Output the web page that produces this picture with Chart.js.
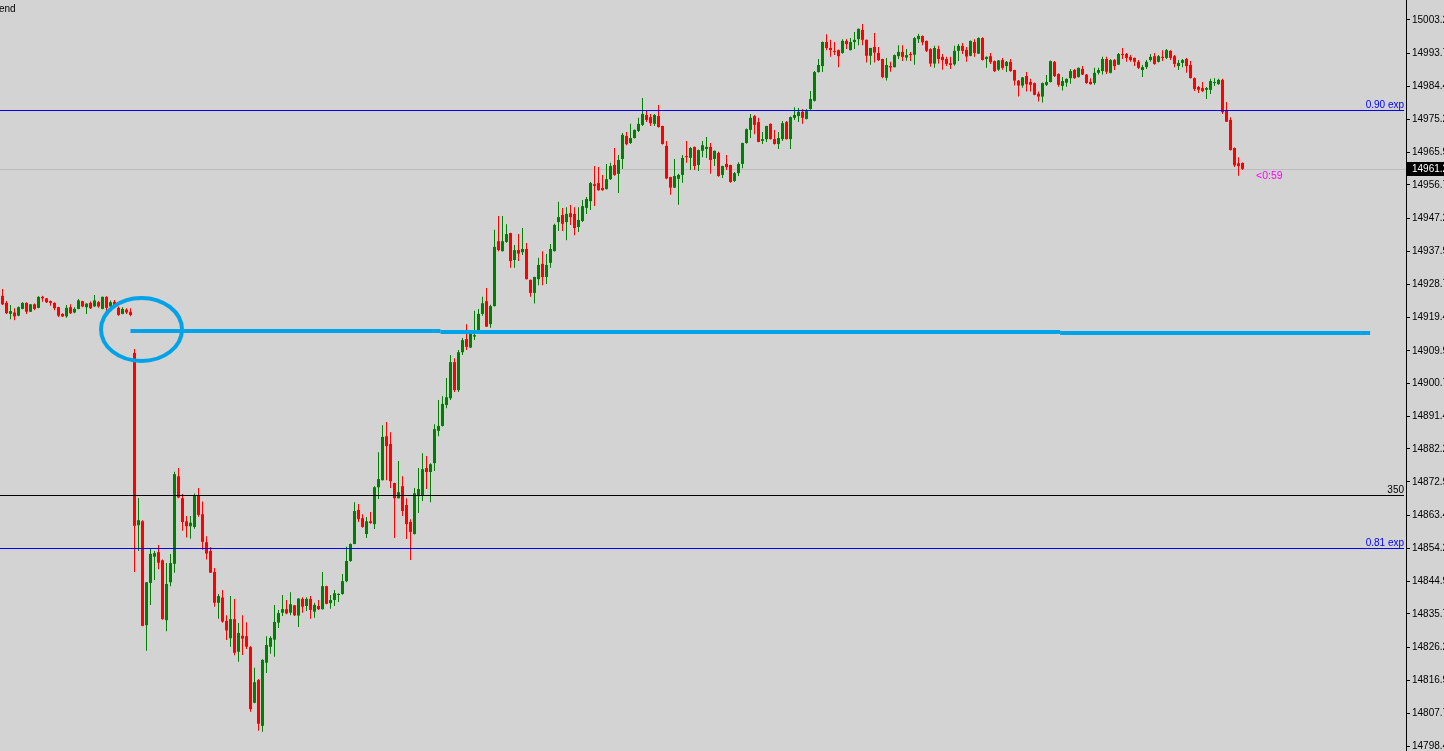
<!DOCTYPE html>
<html><head><meta charset="utf-8">
<script src="https://cdn.jsdelivr.net/npm/chart.js@4.4.1/dist/chart.umd.min.js"></script>
<style>html,body{margin:0;padding:0;background:#d3d3d3;overflow:hidden}canvas{display:block}</style>
</head><body>
<canvas id="c" width="1444" height="751" style="width:1444px;height:751px"></canvas>
<script>
const opens = [
14925.4,14923.4,14920.3,14920.7,14919.8,14921.7,14923.4,14920.9,14923.0,14922.0,
14925.1,14924.7,14923.9,14923.4,14922.2,14920.3,14919.6,14922.2,14920.7,14921.7,
14923.9,14922.2,14923.4,14922.4,14923.6,14921.7,14925.1,14922.4,14923.7,14922.0,
14920.3,14921.5,14920.9,14909.3,14860.7,14861.8,14832.5,14844.4,14851.8,14853.1,
14850.8,14833.9,14844.6,14849.8,14874.5,14868.3,14861.8,14860.4,14860.2,14869.1,
14863.8,14855.9,14853.4,14847.5,14838.8,14840.3,14833.7,14828.8,14834.2,14825.0,
14829.5,14829.4,14826.3,14810.6,14817.0,14804.1,14821.9,14826.4,14828.4,14833.2,
14836.0,14837.0,14836.0,14838.1,14835.2,14839.9,14837.9,14839.9,14836.3,14837.9,
14837.0,14843.5,14838.7,14839.6,14841.0,14841.3,14844.9,14850.6,14855.4,14865.0,
14862.7,14858.2,14861.8,14861.0,14871.4,14873.4,14885.8,14883.6,14872.6,14868.3,
14871.7,14866.4,14861.6,14858.2,14868.9,14869.2,14876.8,14875.7,14878.2,14887.3,
14888.7,14894.6,14896.5,14906.7,14898.8,14909.5,14913.2,14910.8,14913.9,14915.7,
14920.3,14923.9,14917.4,14922.5,14940.8,14938.0,14940.6,14943.1,14935.5,14938.3,
14937.7,14938.6,14929.9,14926.2,14930.1,14934.4,14930.7,14934.7,14938.0,14946.2,
14948.2,14946.2,14948.7,14948.5,14944.8,14946.5,14950.2,14952.1,14956.9,14957.2,
14955.8,14955.5,14958.3,14962.3,14959.8,14964.0,14970.5,14968.5,14969.9,14971.9,
14973.6,14976.4,14975.8,14973.9,14976.1,14973.3,14967.7,14958.9,14955.9,14958.4,
14959.5,14964.8,14964.3,14967.4,14962.3,14966.3,14966.8,14967.4,14964.0,14965.7,
14959.5,14962.6,14962.3,14957.8,14960.0,14962.6,14968.5,14972.2,14976.1,14974.4,
14969.1,14969.6,14973.9,14969.6,14968.2,14969.6,14974.4,14969.6,14975.6,14976.1,
14977.3,14975.3,14978.1,14980.4,14988.5,14990.2,14997.0,14995.3,14994.5,14994.7,
14993.9,14997.3,14994.7,14997.0,14997.8,15000.4,14997.6,14993.1,14995.6,14993.9,
14992.2,14986.9,14990.2,14989.9,14993.0,14994.2,14992.6,14993.6,14993.4,14997.8,
14998.7,14997.3,14995.0,14990.9,14995.0,14992.8,14992.2,14991.0,14990.7,14994.5,
14995.9,14994.8,14993.1,14997.0,14993.7,14998.1,14992.2,14993.0,14991.6,14989.2,
14991.9,14990.2,14991.4,14989.1,14986.1,14984.7,14987.4,14985.7,14985.4,14982.4,
14981.6,14984.9,14985.7,14991.4,14988.0,14984.6,14985.5,14986.8,14989.1,14987.1,
14989.4,14987.8,14985.8,14985.4,14988.3,14988.8,14992.2,14988.3,14991.9,14990.6,
14993.6,14993.6,14992.8,14992.5,14991.4,14989.1,14989.9,14991.9,14993.0,14991.4,
14992.8,14992.5,14994.5,14993.0,14990.2,14991.1,14992.2,14990.5,14986.8,14984.3,
14984.0,14983.5,14983.5,14985.4,14985.1,14986.3,14977.8,14975.0,14967.1,14962.8,
14962.9];
const highs = [
14927.3,14923.9,14922.8,14921.9,14922.4,14923.6,14923.6,14923.0,14923.2,14925.3,
14925.4,14924.8,14924.1,14923.6,14922.3,14920.5,14922.8,14923.0,14922.2,14924.5,
14924.0,14923.3,14923.8,14925.6,14923.9,14925.2,14925.3,14924.1,14924.2,14922.4,
14922.2,14921.9,14921.9,14910.4,14868.4,14862.1,14844.7,14854.0,14853.4,14855.1,
14851.0,14850.0,14852.6,14875.8,14876.8,14869.5,14863.3,14863.3,14869.6,14871.2,
14867.4,14857.6,14854.5,14848.6,14841.3,14842.4,14835.3,14840.7,14839.9,14833.1,
14835.3,14833.3,14826.6,14820.5,14817.3,14822.9,14829.4,14829.4,14838.2,14836.8,
14841.0,14839.6,14841.8,14838.2,14840.1,14840.4,14840.4,14840.7,14838.8,14839.6,
14847.5,14843.6,14841.0,14842.4,14841.5,14846.9,14854.6,14855.5,14867.2,14866.7,
14863.8,14863.0,14864.4,14871.7,14881.3,14888.9,14889.8,14886.9,14872.7,14878.8,
14874.5,14868.3,14862.4,14871.2,14876.8,14881.0,14880.2,14878.2,14889.2,14896.0,
14897.1,14902.2,14908.7,14907.8,14910.1,14913.5,14917.4,14915.2,14921.2,14921.7,
14925.1,14927.6,14922.9,14944.0,14947.9,14947.9,14945.6,14943.2,14939.7,14942.8,
14944.5,14940.3,14930.0,14930.8,14936.1,14938.0,14937.2,14940.0,14945.7,14951.9,
14950.2,14950.4,14951.0,14950.4,14950.4,14952.4,14953.3,14957.5,14962.0,14961.7,
14959.5,14962.6,14962.9,14967.1,14965.1,14971.3,14971.6,14973.9,14972.3,14975.6,
14981.2,14977.5,14976.7,14976.7,14979.2,14973.4,14969.1,14959.0,14964.0,14959.8,
14965.1,14969.1,14967.4,14967.5,14966.7,14969.1,14970.2,14968.5,14966.4,14966.0,
14962.1,14965.1,14962.4,14960.3,14963.1,14968.6,14972.6,14976.7,14976.4,14975.6,
14971.6,14973.4,14974.0,14972.2,14971.6,14974.7,14974.7,14976.0,14978.6,14978.4,
14978.1,14978.1,14983.2,14988.8,14992.2,14997.1,14999.2,14997.6,14997.0,14994.9,
14997.8,14997.8,14998.1,14999.8,15000.8,15002.1,14997.7,14995.4,14999.5,14995.6,
14992.3,14992.5,14991.4,14993.5,14996.1,14996.1,14995.0,14994.2,14998.4,14999.3,
14998.8,14997.4,14995.2,14995.9,14995.9,14993.6,14992.8,14992.8,14995.9,14996.4,
14996.7,14995.6,14997.4,14997.8,14998.3,14998.3,14992.9,14993.9,14991.8,14991.9,
14992.5,14991.6,14992.2,14989.2,14986.3,14987.1,14988.5,14986.6,14985.6,14983.0,
14985.6,14987.7,14991.8,14991.6,14988.1,14987.1,14986.7,14989.4,14989.4,14989.8,
14990.2,14988.0,14986.8,14989.7,14989.7,14992.8,14992.8,14992.2,14992.2,14993.9,
14995.3,14993.9,14993.3,14992.6,14991.9,14990.5,14991.9,14993.6,14993.9,14993.3,
14994.7,14995.0,14994.7,14993.3,14991.9,14992.2,14992.5,14991.6,14987.0,14984.6,
14985.7,14984.3,14986.6,14986.8,14986.6,14986.6,14980.1,14975.8,14967.2,14964.5,
14963.0];
const lows = [
14922.8,14920.3,14918.8,14918.5,14919.6,14921.6,14920.3,14920.8,14921.3,14921.9,
14923.7,14923.4,14922.6,14921.3,14919.4,14919.4,14919.2,14920.3,14920.5,14921.6,
14922.2,14920.3,14921.7,14922.3,14922.0,14921.6,14921.1,14922.0,14922.2,14919.8,
14920.2,14920.3,14919.6,14847.5,14853.4,14832.2,14825.3,14838.2,14845.2,14848.3,
14834.0,14830.8,14843.5,14847.3,14868.3,14859.1,14857.2,14856.9,14859.7,14863.1,
14853.8,14851.0,14847.2,14837.7,14834.3,14833.2,14828.3,14826.4,14824.0,14822.2,
14824.1,14825.8,14808.1,14810.5,14802.7,14802.4,14819.0,14824.4,14823.6,14831.7,
14835.1,14835.6,14835.3,14835.1,14832.0,14836.0,14836.5,14834.3,14834.6,14836.8,
14836.9,14838.4,14837.1,14837.9,14839.0,14841.1,14844.6,14850.4,14855.3,14861.6,
14860.0,14857.1,14861.1,14859.6,14868.1,14873.3,14873.4,14871.2,14857.1,14868.2,
14863.3,14856.8,14850.9,14858.1,14864.1,14867.5,14870.9,14867.2,14876.0,14885.8,
14888.5,14893.7,14896.0,14898.3,14898.3,14908.7,14910.1,14910.7,14912.9,14915.5,
14919.8,14916.6,14916.4,14922.4,14938.0,14937.9,14940.4,14933.3,14933.3,14935.2,
14936.9,14930.0,14925.1,14923.2,14928.4,14928.4,14928.7,14933.3,14937.9,14943.7,
14943.7,14941.1,14945.4,14942.5,14943.4,14946.2,14948.5,14949.6,14950.7,14955.0,
14955.0,14955.4,14958.1,14959.3,14954.4,14961.2,14967.9,14968.2,14969.8,14971.6,
14973.3,14974.4,14973.3,14973.3,14972.9,14968.1,14958.3,14953.9,14955.8,14951.1,
14957.3,14962.9,14960.9,14960.9,14960.6,14964.5,14964.3,14959.8,14962.0,14959.0,
14958.6,14960.9,14957.3,14957.5,14959.2,14961.4,14968.3,14969.9,14971.0,14968.7,
14968.2,14968.8,14969.5,14968.1,14966.8,14969.1,14969.5,14966.8,14975.0,14974.4,
14973.9,14975.1,14977.9,14980.2,14988.4,14988.5,14994.7,14992.8,14993.3,14989.9,
14993.7,14995.0,14994.6,14995.0,14996.1,14996.1,14991.2,14990.6,14991.2,14991.6,
14986.8,14986.1,14988.6,14989.8,14992.2,14991.6,14991.7,14991.6,14990.6,14996.7,
14996.1,14994.2,14990.0,14989.7,14990.9,14989.2,14990.2,14989.4,14990.3,14991.6,
14993.6,14991.4,14993.0,14992.8,14993.6,14991.8,14989.7,14990.8,14988.5,14988.8,
14989.2,14988.5,14988.6,14984.7,14981.6,14984.1,14983.0,14983.0,14982.0,14980.2,
14979.9,14984.6,14985.6,14987.1,14984.4,14983.3,14984.4,14985.2,14986.6,14987.0,
14987.7,14985.2,14984.9,14984.9,14987.8,14987.8,14988.0,14988.1,14989.1,14990.5,
14992.2,14991.4,14991.4,14990.2,14989.4,14987.1,14989.4,14991.4,14990.6,14991.2,
14991.6,14992.2,14991.9,14989.9,14989.1,14989.9,14988.3,14986.7,14983.2,14982.6,
14982.9,14980.9,14982.3,14984.6,14984.9,14976.7,14974.4,14966.4,14961.7,14959.3,
14960.9];
const closes = [
14923.0,14920.5,14921.1,14919.6,14922.2,14923.4,14920.9,14923.0,14921.7,14925.1,
14924.7,14923.6,14923.4,14921.9,14919.8,14919.6,14922.0,14920.5,14921.7,14924.1,
14922.4,14923.2,14921.9,14924.1,14922.4,14925.1,14922.0,14923.6,14922.8,14920.0,
14921.7,14920.7,14920.0,14860.5,14862.1,14832.3,14844.6,14852.6,14852.8,14850.1,
14834.2,14844.1,14850.0,14875.1,14868.5,14861.6,14860.4,14861.4,14869.1,14863.6,
14856.0,14852.7,14847.3,14838.8,14840.7,14833.5,14831.0,14834.2,14824.7,14830.3,
14828.7,14826.4,14808.8,14816.4,14804.7,14822.7,14826.9,14828.9,14833.4,14835.9,
14837.0,14835.8,14838.4,14835.3,14840.0,14837.7,14839.9,14836.8,14838.2,14837.0,
14843.5,14838.5,14839.6,14841.5,14841.3,14844.9,14850.6,14855.4,14864.7,14862.4,
14860.2,14861.8,14861.3,14871.4,14873.7,14885.6,14883.0,14873.1,14868.3,14870.0,
14864.7,14861.0,14858.8,14869.7,14870.9,14876.5,14875.7,14877.9,14887.8,14888.7,
14894.9,14896.8,14906.7,14898.8,14909.5,14912.9,14911.0,14915.0,14914.3,14920.3,
14923.3,14916.7,14922.5,14939.2,14938.3,14940.8,14942.8,14935.2,14938.3,14937.3,
14938.6,14930.1,14926.2,14930.7,14934.1,14930.7,14934.1,14938.6,14945.4,14947.6,
14945.7,14948.5,14947.6,14944.5,14946.8,14950.7,14952.7,14957.2,14956.4,14955.2,
14955.2,14958.3,14962.0,14959.5,14963.7,14970.8,14968.2,14969.9,14972.2,14973.9,
14976.7,14975.0,14974.1,14976.4,14973.0,14968.2,14958.5,14955.9,14959.2,14959.5,
14964.3,14964.5,14967.1,14962.0,14966.5,14967.9,14967.4,14963.7,14966.3,14959.2,
14962.0,14961.7,14957.5,14960.0,14962.6,14968.5,14972.4,14975.6,14973.6,14968.8,
14969.6,14973.3,14969.6,14968.2,14969.9,14974.1,14969.6,14975.8,14976.4,14977.3,
14975.6,14977.5,14980.9,14988.5,14990.5,14997.0,14995.3,14994.7,14994.2,14993.0,
14997.3,14996.4,14997.0,14997.6,15000.7,14997.6,14993.1,14995.3,14994.0,14991.9,
14987.1,14990.5,14989.8,14993.3,14994.2,14992.8,14993.3,14993.3,14998.1,14998.7,
14996.9,14994.5,14990.9,14995.3,14992.2,14991.9,14990.8,14990.5,14994.5,14995.9,
14994.5,14992.9,14997.3,14993.9,14998.1,14991.9,14992.8,14991.3,14988.8,14991.8,
14989.7,14991.4,14988.8,14986.1,14984.7,14987.0,14985.1,14984.9,14982.1,14981.6,
14985.4,14985.7,14991.6,14987.4,14984.9,14986.0,14986.6,14988.8,14986.8,14989.7,
14987.8,14985.4,14985.1,14988.3,14989.1,14992.2,14988.6,14991.9,14990.2,14993.6,
14993.3,14992.5,14991.9,14991.4,14989.7,14989.9,14991.4,14992.8,14990.8,14993.0,
14992.5,14994.7,14992.5,14990.8,14991.1,14991.9,14990.2,14986.8,14983.7,14983.5,
14983.2,14984.0,14986.0,14985.7,14986.3,14977.2,14974.5,14966.5,14962.2,14962.0,
14961.2];
const tickLabels = [15003.2,14993.7,14984.4,14975.2,14965.9,14956.7,14947.2,14937.9,14928.7,14919.4,14909.9,14900.7,14891.4,14882.2,14872.9,14863.4,14854.2,14844.9,14835.7,14826.2,14816.9,14807.7,14798.4];
const levelValues = [14977.8, 14869.2, 14854.2];
const levelNames = ['0.90 exp', '350', '0.81 exp'];
const levelColors = ['#0000ff', '#000000', '#0000ff'];
const bidPrice = 14961.2;
const timerText = '<0:59';
const cornerText = 'end';
// hand-drawn annotation (data coordinates: candle index, price)
const handLine = [[32, 109.5, 14915.46], [109.5, 264.4, 14915.18], [264.4, 341.9, 14914.9]];
const handEllipse = {cx: 34.75, cy: 14915.9, rx: 10.12, ry: 8.9};

const UP = '#008000', DOWN = '#ff0000';
const FONT = '"Liberation Sans", Arial, sans-serif';
const AXIS_FONT_SIZE = 10;
const colorAt = i => closes[i] >= opens[i] ? UP : DOWN;
const bodyData = opens.map((o, i) => ({x: i, y: [Math.min(o, closes[i]), Math.max(o, closes[i])]}));
const wickData = lows.map((l, i) => ({x: i, y: [l, highs[i]]}));

const overlay = {
  id: 'overlay',
  beforeDatasetsDraw(chart) {
    const {ctx, chartArea: a, scales: {y}} = chart;
    ctx.save();
    const by = Math.round(y.getPixelForValue(bidPrice)) + 0.5;
    ctx.strokeStyle = '#bcbcbc'; ctx.lineWidth = 1;
    ctx.beginPath(); ctx.moveTo(a.left, by); ctx.lineTo(a.right, by); ctx.stroke();
    ctx.restore();
  },
  afterDatasetsDraw(chart) {
    const {ctx, chartArea: a, scales: {x, y}} = chart;
    ctx.save();
    ctx.lineWidth = 1;
    levelValues.forEach((v, k) => {
      const py = Math.round(y.getPixelForValue(v)) + 0.5;
      ctx.strokeStyle = levelColors[k];
      ctx.beginPath(); ctx.moveTo(a.left, py); ctx.lineTo(a.right - 2, py); ctx.stroke();
      ctx.fillStyle = levelColors[k];
      ctx.font = '10px ' + FONT;
      ctx.textAlign = 'right'; ctx.textBaseline = 'alphabetic';
      ctx.fillText(levelNames[k], a.right - 2, py - 2.5);
    });
    // hand drawn line + ellipse
    ctx.strokeStyle = '#00a2e8'; ctx.lineWidth = 4; ctx.lineCap = 'butt';
    handLine.forEach(([f, t, p]) => {
      const py = y.getPixelForValue(p);
      ctx.beginPath(); ctx.moveTo(x.getPixelForValue(f), py); ctx.lineTo(x.getPixelForValue(t), py); ctx.stroke();
    });
    const cx = x.getPixelForValue(handEllipse.cx), cy = y.getPixelForValue(handEllipse.cy);
    const rx = x.getPixelForValue(handEllipse.cx + handEllipse.rx) - cx;
    const ry = y.getPixelForValue(handEllipse.cy - handEllipse.ry) - cy;
    ctx.beginPath(); ctx.ellipse(cx, cy, rx, ry, 0, 0, Math.PI * 2); ctx.stroke();
    // timer text
    const by = Math.round(y.getPixelForValue(bidPrice));
    ctx.fillStyle = '#ff00ff'; ctx.font = '10.5px ' + FONT;
    ctx.textAlign = 'left'; ctx.textBaseline = 'middle';
    ctx.fillText(timerText, x.getPixelForValue(313.4), by + 7);
    ctx.restore();
  },
  afterDraw(chart) {
    const {ctx, chartArea: a, scales: {y}} = chart;
    ctx.save();
    const by = Math.round(y.getPixelForValue(bidPrice));
    ctx.fillStyle = '#000';
    ctx.fillRect(a.right + 1, by - 7, chart.width - a.right - 1, 14);
    ctx.fillStyle = '#fff'; ctx.font = AXIS_FONT_SIZE + 'px ' + FONT;
    ctx.textAlign = 'left'; ctx.textBaseline = 'middle';
    ctx.fillText(bidPrice.toFixed(1), a.right + 6, by + 0.5);
    ctx.fillStyle = '#000'; ctx.textBaseline = 'alphabetic'; ctx.font = '10px ' + FONT;
    ctx.fillText(cornerText, -1, 12);
    ctx.restore();
  }
};

new Chart(document.getElementById('c'), {
  type: 'bar',
  data: {datasets: [
    {data: bodyData, barThickness: 3, grouped: false, minBarLength: 1, inflateAmount: 0, borderWidth: 0,
     backgroundColor: c => colorAt(c.dataIndex)},
    {data: wickData, barThickness: 1, grouped: false, inflateAmount: 0, borderWidth: 0,
     backgroundColor: c => colorAt(c.dataIndex)}
  ]},
  options: {
    responsive: false, animation: false, devicePixelRatio: 1,
    layout: {padding: 0},
    plugins: {legend: {display: false}, tooltip: {enabled: false}},
    scales: {
      x: {type: 'linear', display: false, min: -0.625, max: 350.875, offset: false},
      y: {
        position: 'right', min: 14797.0, max: 15008.84, beginAtZero: false,
        afterBuildTicks: s => { s.ticks = tickLabels.map(v => ({value: v})); },
        afterFit: s => { s.width = 38; s.paddingTop = 0; s.paddingBottom = 0; },
        grid: {drawOnChartArea: false, drawTicks: true, tickLength: 4, color: '#000', lineWidth: 1},
        border: {display: true, color: '#000', width: 1},
        ticks: {padding: 2, color: '#000', autoSkip: false, font: {family: FONT, size: AXIS_FONT_SIZE},
                callback: v => Number(v).toFixed(1)}
      }
    }
  },
  plugins: [overlay]
});
</script>
</body></html>
